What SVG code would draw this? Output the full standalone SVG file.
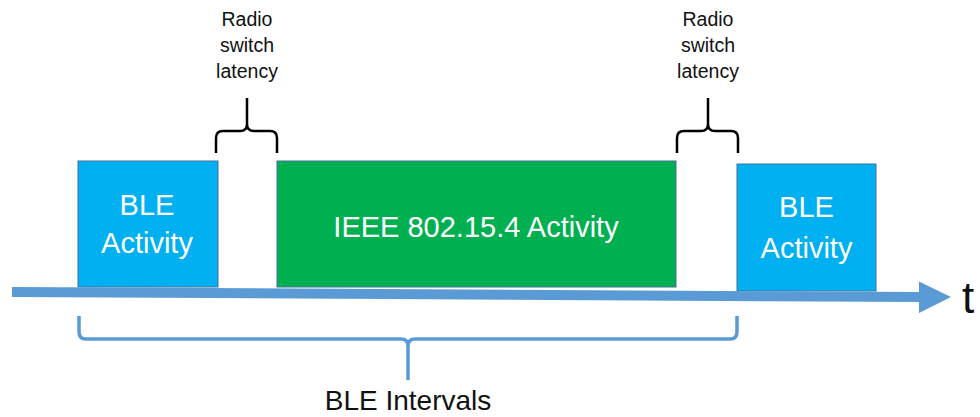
<svg xmlns="http://www.w3.org/2000/svg" width="980" height="417" viewBox="0 0 980 417">
<style>
.ble{fill:#00B0F0;stroke:#41719C;stroke-width:1}
.ieee{fill:#00B050;stroke:#41719C;stroke-width:1}
.wt{font-family:"Liberation Sans",Arial,sans-serif;fill:#ffffff;text-anchor:middle}
.bt{font-family:"Liberation Sans",Arial,sans-serif;fill:#111111;text-anchor:middle}
.brace{fill:none;stroke:#000000;stroke-width:2.5;stroke-linejoin:round}
.bbrace{fill:none;stroke:#5B9BD5;stroke-width:3.5;stroke-linejoin:round}
</style>
<rect width="980" height="417" fill="#ffffff"/>
<g id="ble1">
<rect class="ble" x="78" y="161" width="140" height="126"/>
<text class="wt" font-size="29" x="147" y="215">BLE</text>
<text class="wt" font-size="29" x="147" y="253">Activity</text>
</g>
<g id="ieee">
<rect class="ieee" x="277" y="161" width="399" height="126"/>
<text class="wt" font-size="29" x="476" y="237">IEEE 802.15.4 Activity</text>
</g>
<g id="ble2">
<rect class="ble" x="737" y="164" width="139" height="127"/>
<text class="wt" font-size="29" x="806.5" y="217">BLE</text>
<text class="wt" font-size="29" x="806.5" y="258">Activity</text>
</g>
<g id="latency1">
<path class="brace" d="M216,153 L216,138 Q216,131 223,131 L240,131 Q247,131 247,124 L247,98 M247,124 Q247,131 254,131 L270,131 Q277,131 277,138 L277,153"/>
<text class="bt" font-size="19.5" x="247" y="26">Radio</text>
<text class="bt" font-size="19.5" x="247" y="52">switch</text>
<text class="bt" font-size="19.5" x="247" y="78">latency</text>
</g>
<g id="latency2">
<path class="brace" d="M677,153 L677,138 Q677,131 684,131 L701,131 Q708,131 708,124 L708,98 M708,124 Q708,131 715,131 L731,131 Q738,131 738,138 L738,153"/>
<text class="bt" font-size="19.5" x="708" y="26">Radio</text>
<text class="bt" font-size="19.5" x="708" y="52">switch</text>
<text class="bt" font-size="19.5" x="708" y="78">latency</text>
</g>
<g id="connectors">
<line x1="12" y1="292" x2="921" y2="297" stroke="#5B9BD5" stroke-width="10"/>
<polygon points="919,281.5 951,297 919,313" fill="#5B9BD5"/>
</g>
<g id="axis-label">
<text x="962" y="313" font-family="'Liberation Sans',Arial,sans-serif" font-size="44" fill="#111111">t</text>
</g>
<g id="intervals">
<path class="bbrace" d="M79,316 L79,332 Q79,339 86,339 L401,339 Q408,339 408,346 L408,380 M408,346 Q408,339 415,339 L730,339 Q737,339 737,332 L737,316"/>
<text class="bt" font-size="28" x="408" y="410">BLE Intervals</text>
</g>
</svg>
